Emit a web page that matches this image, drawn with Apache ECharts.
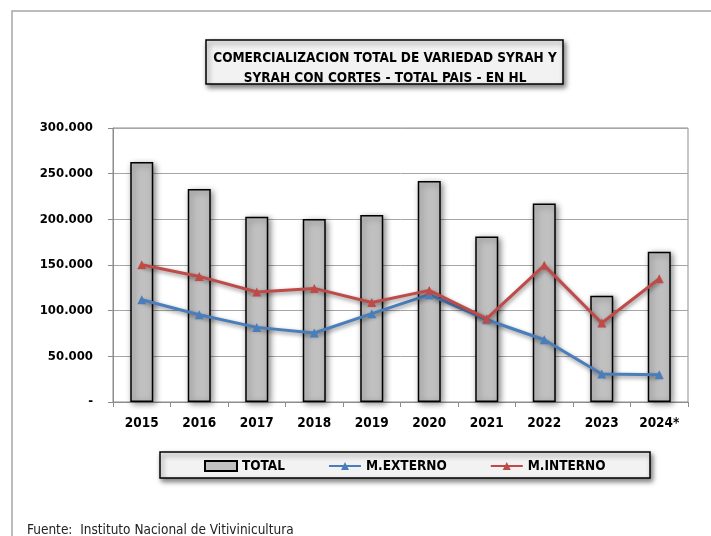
<!DOCTYPE html>
<html>
<head>
<meta charset="utf-8">
<script src="https://cdn.jsdelivr.net/npm/echarts@6/dist/echarts.min.js"></script>
<style>
  html, body { margin: 0; padding: 0; background: #fff; }
  #chart { width: 711px; height: 536px; }
</style>
</head>
<body>
<div id="chart"></div>
<script>
// años y valores en HL
const years = ["2015", "2016", "2017", "2018", "2019", "2020", "2021", "2022", "2023", "2024*"];
const total = [262800, 233200, 202900, 200400, 204700, 242000, 181300, 217400, 116400, 164600];
const externo = [112000, 95600, 81700, 75500, 96700, 117500, 90100, 68200, 30700, 29900];
const interno = [150300, 137500, 120400, 124400, 109000, 122200, 91200, 149600, 86500, 135000];
const titleLines = ["COMERCIALIZACION TOTAL DE VARIEDAD SYRAH Y", "SYRAH CON CORTES - TOTAL PAIS - EN HL"];
const sourceNote = "Fuente:  Instituto Nacional de Vitivinicultura";

const narrow = "'DejaVu Sans Condensed', 'DejaVu Sans', sans-serif";

function fmt(v) {
    if (v === 0) return "-";
    return String(v).replace(/\B(?=(\d{3})+(?!\d))/g, ".");
}

const chart = echarts.init(document.getElementById("chart"), null, { renderer: "canvas" });

const lineShadow = {
    shadowBlur: 4,
    shadowColor: "rgba(0,0,0,0.45)",
    shadowOffsetX: 1,
    shadowOffsetY: 2,
};

chart.setOption({
    animation: false,
    backgroundColor: "#fff",
    title: {
        text: titleLines.join("\n"),
        left: 380,
        top: 43,
        textAlign: "center",
        textStyle: {
            fontFamily: narrow,
            fontWeight: "bold",
            fontSize: 13.5,
            lineHeight: 20,
            color: "#000",
        },
    },
    graphic: [
        {
            type: "rect",
            z: -10,
            shape: { x: 12, y: 11, width: 760, height: 600 },
            style: { fill: "none", stroke: "#a6a6a6", lineWidth: 1.5 },
        },
        {
            type: "rect",
            z: -1,
            shape: { x: 206, y: 40, width: 357, height: 44 },
            style: {
                fill: "#f2f2f2", stroke: "#000", lineWidth: 1.5,
                shadowBlur: 5, shadowColor: "rgba(0,0,0,0.5)", shadowOffsetX: 2, shadowOffsetY: 3,
            },
        },
        {
            type: "rect",
            z: -1,
            shape: { x: 160, y: 452, width: 490, height: 26 },
            style: {
                fill: "#f2f2f2", stroke: "#000", lineWidth: 1.5,
                shadowBlur: 5, shadowColor: "rgba(0,0,0,0.5)", shadowOffsetX: 2, shadowOffsetY: 3,
            },
        },
        {
            type: "text",
            left: 27,
            top: 523,
            style: {
                text: sourceNote,
                fontFamily: narrow,
                fontSize: 13.5,
                fill: "#222",
            },
        },
    ],
    legend: {
        left: 204,
        top: 459,
        itemGap: 43,
        itemWidth: 32,
        itemHeight: 10,
        padding: 0,
        textStyle: {
            fontFamily: narrow,
            fontWeight: "bold",
            fontSize: 13.5,
            color: "#000",
        },
        data: [
            { name: "TOTAL", icon: "rect" },
            { name: "M.EXTERNO" },
            { name: "M.INTERNO" },
        ],
    },
    grid: {
        left: 113,
        right: 23,
        top: 128,
        bottom: 134,
        show: true,
        borderColor: "#8c8c8c",
        borderWidth: 1,
        containLabel: false,
    },
    xAxis: {
        type: "category",
        data: years,
        axisLine: { lineStyle: { color: "#8c8c8c" } },
        axisTick: { show: true, length: 5, lineStyle: { color: "#8c8c8c" } },
        axisLabel: {
            interval: 0,
            margin: 14,
            fontFamily: narrow,
            fontWeight: "bold",
            fontSize: 13.5,
            color: "#000",
        },
    },
    yAxis: {
        type: "value",
        min: 0,
        max: 300000,
        interval: 50000,
        axisLine: { show: true, lineStyle: { color: "#8c8c8c" } },
        axisTick: { show: true, length: 5, lineStyle: { color: "#8c8c8c" } },
        splitLine: { lineStyle: { color: "#a6a6a6" } },
        axisLabel: {
            margin: 20,
            formatter: fmt,
            fontFamily: narrow,
            fontWeight: "bold",
            fontSize: 13,
            color: "#000",
        },
    },
    series: [
        {
            name: "TOTAL",
            type: "bar",
            data: total,
            barWidth: 23,
            itemStyle: {
                color: "#c0c0c0",
                borderColor: "#000",
                borderWidth: 1.5,
                shadowBlur: 6,
                shadowColor: "rgba(0,0,0,0.45)",
                shadowOffsetX: 2,
                shadowOffsetY: 2,
            },
        },
        {
            name: "M.EXTERNO",
            type: "line",
            data: externo,
            symbol: "triangle",
            symbolSize: 9,
            lineStyle: Object.assign({ color: "#4a7ebb", width: 3 }, lineShadow),
            itemStyle: { color: "#4a7ebb" },
            z: 5,
        },
        {
            name: "M.INTERNO",
            type: "line",
            data: interno,
            symbol: "triangle",
            symbolSize: 9,
            lineStyle: Object.assign({ color: "#be4b48", width: 3 }, lineShadow),
            itemStyle: { color: "#be4b48" },
            z: 5,
        },
    ],
});
</script>
</body>
</html>
